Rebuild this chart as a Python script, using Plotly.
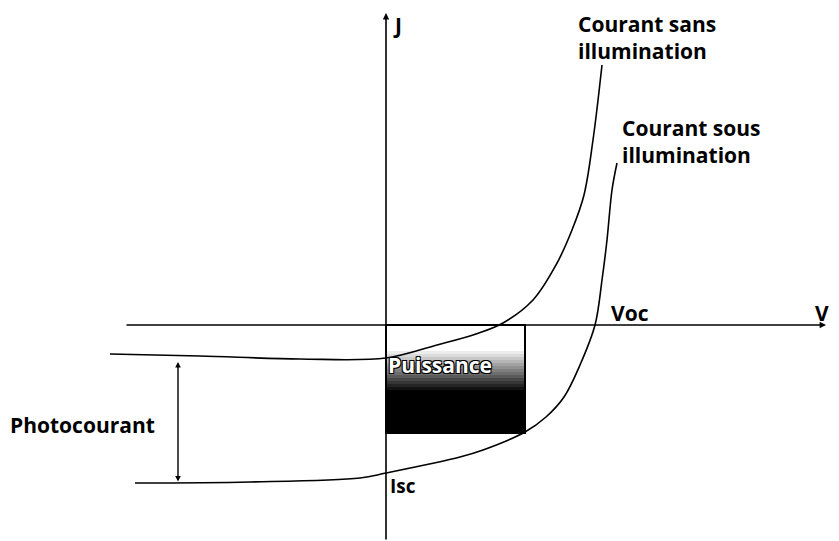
import plotly.graph_objects as go

# I-V curves of a solar cell (V, J units in sketch pixels)
dark_v = [-276, -186, -86, 0, 51, 90, 117, 147, 170, 186, 198, 207, 216]
dark_j = [-29, -31, -34, -33, -20, -9, 2, 25, 60, 95, 130, 185, 260]

light_v = [-251, -136, -26, 0, 74, 97, 139, 160, 178, 194, 209, 216, 221, 226, 231]
light_j = [-158, -157, -153, -148, -132, -125, -107, -92, -72, -40, 0, 45, 85, 135, 162]

# maximum power point
vm, jm = 139, -108
voc, isc = 209, -148
photo_top, photo_bottom = -37, -158

fig = go.Figure()

# power rectangle with a white-to-black fade
steps = 14
for i in range(steps):
    y0 = -26 - i * 3
    y1 = y0 - 3
    g = int(255 * (1 - (i + 1) / steps))
    fig.add_shape(type="rect", x0=0, x1=vm, y0=y0, y1=y1,
                  fillcolor=f"rgb({g},{g},{g})", line_width=0, layer="below")
fig.add_shape(type="rect", x0=0, x1=vm, y0=-26 - steps * 3, y1=jm,
              fillcolor="black", line_width=0, layer="below")
fig.add_shape(type="rect", x0=0, x1=vm, y0=0, y1=jm,
              line=dict(color="black", width=2), fillcolor="rgba(0,0,0,0)")

# axes
arrow = dict(xref="x", yref="y", axref="x", ayref="y", showarrow=True, arrowhead=2,
             arrowsize=0.8, arrowwidth=1.6, arrowcolor="black", text="")
fig.add_annotation(x=440, y=0, ax=-261, ay=0, **arrow)
fig.add_annotation(x=0, y=312, ax=0, ay=-216, **arrow)

fig.add_trace(go.Scatter(x=dark_v, y=dark_j, mode="lines", line=dict(color="black", width=1.6, shape="spline"),
                         hoverinfo="skip"))
fig.add_trace(go.Scatter(x=light_v, y=light_j, mode="lines", line=dict(color="black", width=1.6, shape="spline"),
                         hoverinfo="skip"))

# photocurrent double arrow
fig.add_annotation(x=-208, y=photo_top, ax=-208, ay=photo_bottom, xref="x", yref="y", axref="x", ayref="y",
                   showarrow=True, arrowhead=2, startarrowhead=2, arrowside="end+start",
                   arrowsize=0.8, arrowwidth=1.4, arrowcolor="black", text="")

font = dict(family="Open Sans", size=21, color="black")
bold = lambda s: f"<b>{s}</b>"
fig.add_annotation(x=-378, y=-100, text=bold("Photocourant"), showarrow=False, xanchor="left", font=font)
fig.add_annotation(x=2, y=isc + 2, text=bold("Isc"), showarrow=False, xanchor="left", yanchor="top",
                   font=dict(family="Open Sans", size=19, color="black"))
fig.add_annotation(x=voc + 14, y=-4, text=bold("Voc"), showarrow=False, xanchor="left", yanchor="bottom", font=font)
fig.add_annotation(x=427, y=-4, text=bold("V"), showarrow=False, xanchor="left", yanchor="bottom", font=font)
fig.add_annotation(x=5, y=316, text=bold("J"), showarrow=False, xanchor="left", yanchor="top", font=font)
fig.add_annotation(x=190, y=317, text=bold("Courant sans<br>illumination"), showarrow=False,
                   xanchor="left", yanchor="top", align="left", font=font)
fig.add_annotation(x=234, y=213, text=bold("Courant sous<br>illumination"), showarrow=False,
                   xanchor="left", yanchor="top", align="left", font=font)
fig.add_annotation(x=0, y=-40, text=bold("Puissance"), showarrow=False, xanchor="left",
                   font=dict(family="Open Sans", size=21, color="white",
                             shadow="1px 1px 0px black, -1px -1px 0px black, 1px -1px 0px black, -1px 1px 0px black"))

# the page body has an 8 px margin: the figure is made 8 px smaller so nothing is clipped
fig.update_xaxes(range=[-378, 453], visible=False, fixedrange=True)
fig.update_yaxes(range=[-216, 317], visible=False, fixedrange=True)
fig.update_layout(width=831, height=533, margin=dict(l=0, r=0, t=0, b=0),
                  plot_bgcolor="white", paper_bgcolor="white", showlegend=False)
fig.write_html("out.html")
